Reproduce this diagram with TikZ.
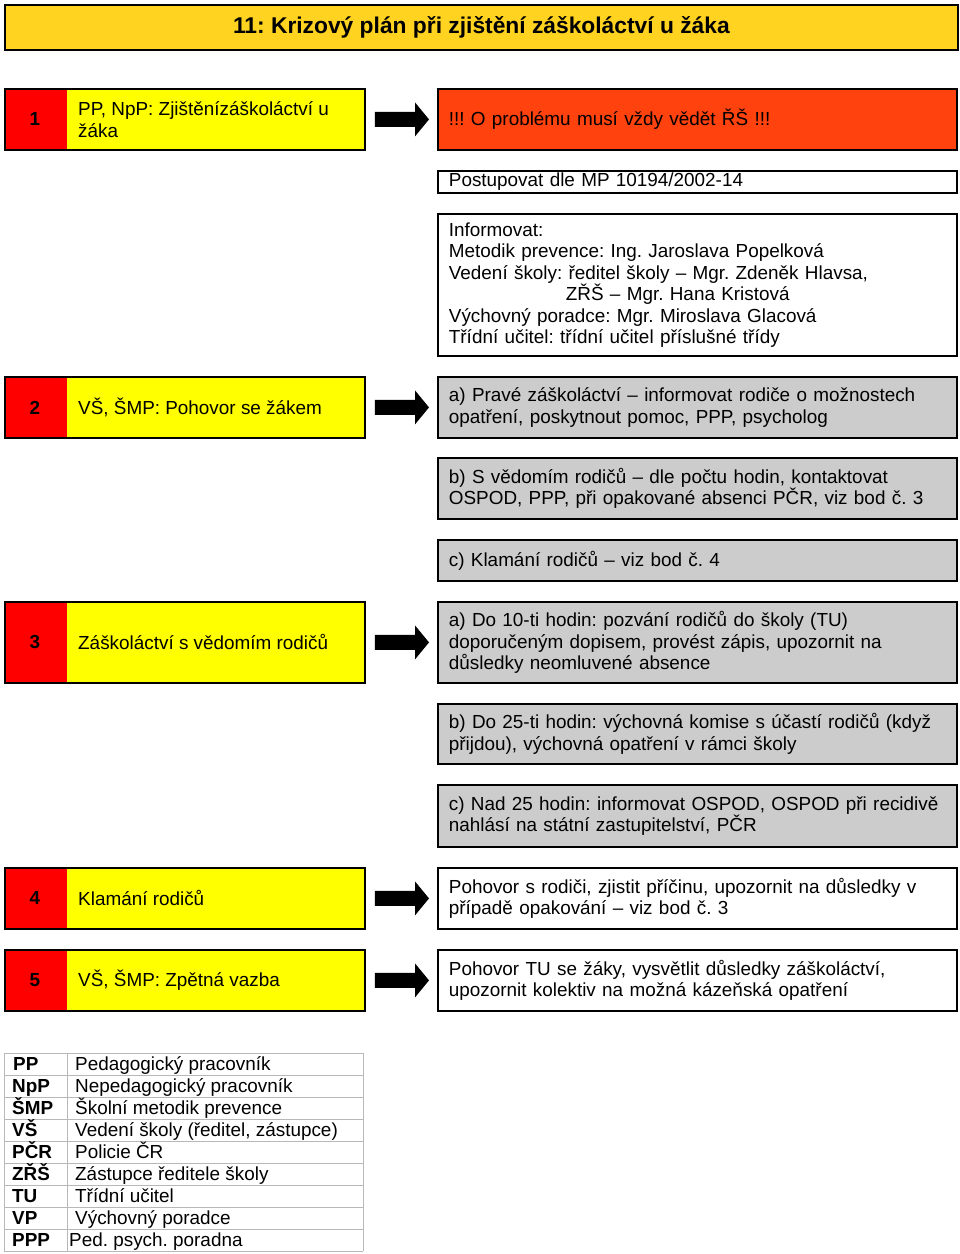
\documentclass[tikz,border=0pt]{standalone}
\usepackage{fontspec}
\setmainfont{Liberation Sans}
\usetikzlibrary{calc}
\frenchspacing
\definecolor{titlegold}{HTML}{FFD320}
\definecolor{boxyellow}{HTML}{FFFF00}
\definecolor{boxred}{HTML}{FF0000}
\definecolor{boxorange}{HTML}{FF420E}
\definecolor{boxgray}{HTML}{CCCCCC}
\definecolor{gridgray}{HTML}{B8B8B8}
\newcommand{\bodyfont}{\fontsize{18.9pt}{21.5pt}\selectfont}
\newcommand{\titlefont}{\fontsize{22.8pt}{26pt}\selectfont\bfseries}
\newcommand{\flowarrow}[2]{%
  \fill let \p1=(#1.east), \p2=(#2.west) in
    (\x1+9pt,\y1+7.5pt) -- (\x2-22pt,\y1+7.5pt) -- (\x2-22pt,\y1+17pt) --
    (\x2-8pt,\y1) -- (\x2-22pt,\y1-17pt) -- (\x2-22pt,\y1-7.5pt) --
    (\x1+9pt,\y1-7.5pt) -- cycle;}
\tikzset{
  rbox/.style={draw=black, line width=1.8pt, rectangle, anchor=north west,
    inner xsep=11pt, inner ysep=0pt, align=left, font=\bodyfont,
    text width=497pt, minimum width=519pt},
  lbox/.style={draw=black, line width=1.8pt, rectangle, anchor=north west,
    fill=boxyellow, minimum width=360pt, inner sep=0pt,
    path picture={\fill[boxred] (path picture bounding box.north west)
      rectangle ([xshift=62pt]path picture bounding box.south west);}},
  numlabel/.style={font=\bodyfont\bfseries, inner sep=0pt},
  ltext/.style={font=\bodyfont, anchor=west, align=left, inner sep=0pt},
  legab/.style={font=\bodyfont\bfseries, anchor=base west, inner sep=0pt},
  legtx/.style={font=\bodyfont, anchor=base west, inner sep=0pt},
}
\begin{document}
\begin{tikzpicture}[x=1pt,y=-1pt]
\useasboundingbox[fill=white] (0,0) rectangle (960,1254);

% title
\node[draw=black, line width=1.8pt, fill=titlegold, anchor=north west,
  minimum width=953pt, minimum height=45pt, font=\titlefont] (title) at (4,4)
  {11: Krizový plán při zjištění záškoláctví u žáka};

% left boxes
\node[lbox, minimum height=61pt] (l1) at (4,88) {};
\node[lbox, minimum height=61pt] (l2) at (4,376) {};
\node[lbox, minimum height=81pt] (l3) at (4,601) {};
\node[lbox, minimum height=61pt] (l4) at (4,867) {};
\node[lbox, minimum height=61pt] (l5) at (4,949) {};

\node[numlabel] (n1) at ([xshift=31pt]l1.west) {1};
\node[numlabel] (n2) at ([xshift=31pt]l2.west) {2};
\node[numlabel] (n3) at ([xshift=31pt]l3.west) {3};
\node[numlabel] (n4) at ([xshift=31pt]l4.west) {4};
\node[numlabel] (n5) at ([xshift=31pt]l5.west) {5};

\node[ltext] (t1) at ([xshift=74pt]l1.west) {PP, NpP: Zjištěnízáškoláctví u\\žáka};
\node[ltext] (t2) at ([xshift=74pt]l2.west) {VŠ, ŠMP: Pohovor se žákem};
\node[ltext] (t3) at ([xshift=74pt]l3.west) {Záškoláctví s vědomím rodičů};
\node[ltext] (t4) at ([xshift=74pt]l4.west) {Klamání rodičů};
\node[ltext] (t5) at ([xshift=74pt]l5.west) {VŠ, ŠMP: Zpětná vazba};

% right boxes
\node[rbox, fill=boxorange, minimum height=61pt] (r1) at (437,88)
  {!!! O problému musí vždy vědět ŘŠ !!!};
\node[rbox, minimum height=22pt] (r1b) at (437,170)
  {Postupovat dle MP 10194/2002-14};
\node[rbox, minimum height=142pt] (r1c) at (437,213)
  {Informovat:\\
   Metodik prevence: Ing. Jaroslava Popelková\\
   Vedení školy: ředitel školy – Mgr. Zdeněk Hlavsa,\\
   \hspace*{117pt}ZŘŠ – Mgr. Hana Kristová\\
   Výchovný poradce: Mgr. Miroslava Glacová\\
   Třídní učitel: třídní učitel příslušné třídy};
\node[rbox, fill=boxgray, minimum height=61pt] (r2a) at (437,376)
  {a) Pravé záškoláctví – informovat rodiče o možnostech\\opatření, poskytnout pomoc, PPP, psycholog};
\node[rbox, fill=boxgray, minimum height=61pt] (r2b) at (437,457)
  {b) S vědomím rodičů – dle počtu hodin, kontaktovat\\OSPOD, PPP, při opakované absenci PČR, viz bod č. 3};
\node[rbox, fill=boxgray, minimum height=41pt] (r2c) at (437,539)
  {c) Klamání rodičů – viz bod č. 4};
\node[rbox, fill=boxgray, minimum height=81pt] (r3a) at (437,601)
  {a) Do 10-ti hodin: pozvání rodičů do školy (TU)\\doporučeným dopisem, provést zápis, upozornit na\\důsledky neomluvené absence};
\node[rbox, fill=boxgray, minimum height=60pt] (r3b) at (437,703)
  {b) Do 25-ti hodin: výchovná komise s účastí rodičů (když\\přijdou), výchovná opatření v rámci školy};
\node[rbox, fill=boxgray, minimum height=62pt] (r3c) at (437,784)
  {c) Nad 25 hodin: informovat OSPOD, OSPOD při recidivě\\nahlásí na státní zastupitelství, PČR};
\node[rbox, minimum height=61pt] (r4) at (437,867)
  {Pohovor s rodiči, zjistit příčinu, upozornit na důsledky v\\případě opakování – viz bod č. 3};
\node[rbox, minimum height=61pt] (r5) at (437,949)
  {Pohovor TU se žáky, vysvětlit důsledky záškoláctví,\\upozornit kolektiv na možná kázeňská opatření};

% arrows
\flowarrow{l1}{r1}
\flowarrow{l2}{r2a}
\flowarrow{l3}{r3a}
\flowarrow{l4}{r4}
\flowarrow{l5}{r5}

% legend table
\foreach \i in {0,...,9} {
  \draw[gridgray, line width=1pt] (4,1053+22*\i) -- (363,1053+22*\i);
}
\draw[gridgray, line width=1pt] (4,1053) -- (4,1251);
\draw[gridgray, line width=1pt] (67,1053) -- (67,1251);
\draw[gridgray, line width=1pt] (363,1053) -- (363,1251);

\node[legab] (a1) at (13,1070) {PP};
\node[legtx] (d1) at (75,1070) {Pedagogický pracovník};
\node[legab] (a2) at (12,1092) {NpP};
\node[legtx] (d2) at (75,1092) {Nepedagogický pracovník};
\node[legab] (a3) at (12,1114) {ŠMP};
\node[legtx] (d3) at (75,1114) {Školní metodik prevence};
\node[legab] (a4) at (12,1136) {VŠ};
\node[legtx] (d4) at (75,1136) {Vedení školy (ředitel, zástupce)};
\node[legab] (a5) at (12,1158) {PČR};
\node[legtx] (d5) at (75,1158) {Policie ČR};
\node[legab] (a6) at (12,1180) {ZŘŠ};
\node[legtx] (d6) at (75,1180) {Zástupce ředitele školy};
\node[legab] (a7) at (12,1202) {TU};
\node[legtx] (d7) at (75,1202) {Třídní učitel};
\node[legab] (a8) at (12,1224) {VP};
\node[legtx] (d8) at (75,1224) {Výchovný poradce};
\node[legab] (a9) at (12,1246) {PPP};
\node[legtx] (d9) at (69,1246) {Ped. psych. poradna};
\end{tikzpicture}
\end{document}
